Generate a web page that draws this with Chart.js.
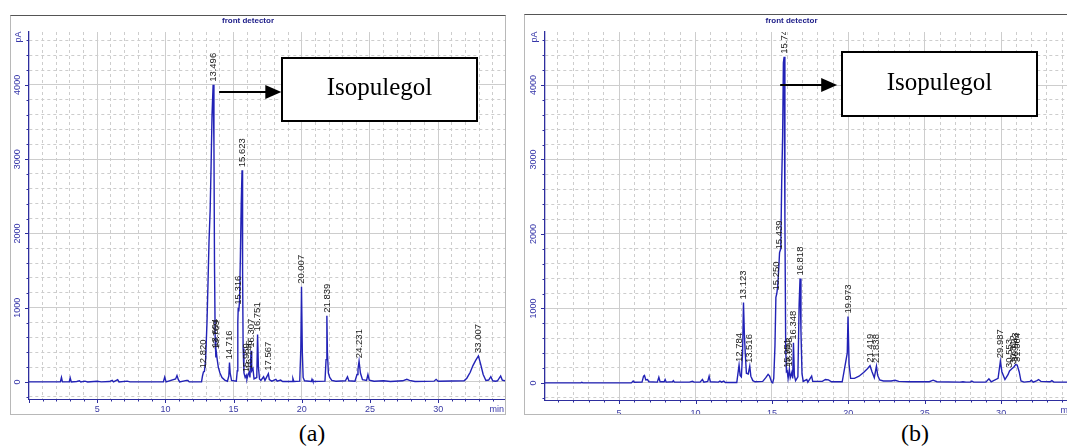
<!DOCTYPE html>
<html>
<head>
<meta charset="utf-8">
<script src="https://cdn.jsdelivr.net/npm/chart.js@4.4.0/dist/chart.umd.min.js"></script>
<style>
  body { margin: 0; width: 1067px; height: 448px; overflow: hidden; background: #fff; position: relative; }
  .frame { position: absolute; border: 1px solid #b8b8b8; border-top-color: #555; background: #fff; }
  .frame canvas { position: absolute; left: 0; top: 0; }
  .cap { position: absolute; font: 24px "Liberation Serif", "Times New Roman", serif; transform: translate(-50%, -50%); color: #000; }
</style>
</head>
<body>
<div class="frame" style="left:10px;top:15px;width:494px;height:398px"><canvas id="chartA" width="494" height="398"></canvas></div>
<div class="frame" style="left:524px;top:14px;width:560px;height:399px"><canvas id="chartB" width="560" height="399"></canvas></div>
<div class="cap" style="left:312px;top:433px">(a)</div>
<div class="cap" style="left:915px;top:433px">(b)</div>
<script>
// chromatogram (a) - retention time (min) / signal (pA)
const timeA = [0, 2.3, 2.38, 2.45, 2.95, 3.02, 3.1, 3.5, 3.7, 3.8, 4.1, 4.3, 5.0, 5.3, 5.9, 6.1, 6.2, 6.5, 6.6, 7.2, 7.4,
  9.85, 9.95, 10.05, 10.75, 10.85, 10.95, 11.05, 11.55, 11.65, 11.75, 12.65, 12.72, 12.79, 12.86, 12.95, 13.05, 13.12,
  13.2, 13.28, 13.35, 13.42, 13.5, 13.56, 13.6, 13.65, 13.7, 13.75, 13.8, 13.88, 14.0, 14.15, 14.35, 14.55, 14.65, 14.7,
  14.75, 14.85, 15.2, 15.27, 15.31, 15.34, 15.38, 15.44, 15.5, 15.56, 15.62, 15.66, 15.7, 15.76, 15.85, 15.93, 15.98,
  16.08, 16.14, 16.2, 16.28, 16.33, 16.42, 16.5, 16.7, 16.76, 16.82, 16.9, 17.0, 17.2, 17.3, 17.55, 17.62, 17.8, 18.1,
  18.2, 18.45, 18.6, 19.3, 19.35, 19.42, 19.85, 19.93, 19.98, 20.04, 20.1, 20.2, 20.7, 20.75, 20.82, 21.7, 21.78, 21.84,
  21.88, 21.95, 22.05, 22.2, 22.5, 23.2, 23.35, 23.45, 23.9, 24.05, 24.12, 24.2, 24.3, 24.45, 24.75, 24.85, 24.95, 25.3,
  26.0, 26.5, 27.4, 27.7, 27.9, 28.3, 29.7, 29.85, 30.0, 31.9, 32.1, 32.35, 32.55, 32.75, 32.95, 33.1, 33.3, 33.5, 33.7,
  33.86, 34.0, 34.2, 34.35, 34.58, 34.7, 34.9];
const signalA = [0, 0, 60, 0, 0, 55, 0, 5, 15, 0, 10, 0, 8, 0, 5, 20, 0, 30, 0, 10, 0,
  0, 65, 0, 40, 85, 30, 0, 20, 20, 0, 0, 80, 135, 140, 300, 800, 1300,
  1900, 2300, 2900, 3600, 4000, 3200, 1600, 600, 330, 380, 300, 200, 120, 60, 25, 10, 80, 260,
  120, 20, 10, 150, 800, 1000, 950, 1100, 1700, 2400, 2850, 1500, 450, 120, 60, 90, 40,
  110, 130, 60, 420, 150, 180, 40, 60, 640, 200, 40, 20, 70, 20, 110, 30, 10, 35,
  10, 25, 5, 5, 45, 5, 10, 450, 1280, 400, 60, 15, 5, 35, 5, 10, 300, 890,
  400, 120, 60, 20, 10, 15, 70, 15, 10, 100, 170, 280, 120, 30, 20, 100, 25, 10,
  15, 5, 15, 35, 20, 5, 10, 35, 10, 15, 50, 130, 220, 290, 350, 250, 100, 20, 25,
  70, 15, 10, 15, 80, 25, 15];
const peakTextA = ['12.820', '13.496', '13.694', '13.769', '14.716', '15.316', '15.623', '15.959', '16.146', '16.307',
  '16.751', '17.567', '20.007', '21.839', '24.231', '33.007'];
const peakTimeA = [12.79, 13.5, 13.66, 13.76, 14.7, 15.32, 15.62, 15.93, 16.14, 16.28, 16.76, 17.55, 19.98, 21.84, 24.2, 32.95];
const peakHeightA = [140, 4000, 420, 400, 260, 1000, 2850, 90, 130, 420, 640, 110, 1280, 890, 280, 350];

// chromatogram (b)
const timeB = [0.15, 2.5, 2.56, 2.62, 5.8, 5.92, 6.0, 6.5, 6.6, 6.66, 6.75, 6.86, 6.95, 7.5, 7.6, 7.68, 7.95, 8.01, 8.08,
  8.5, 8.55, 8.62, 9.6, 9.8, 9.9, 10.3, 10.45, 10.55, 10.8, 10.89, 10.97, 11.5, 11.6, 11.7, 11.85, 11.95, 12.7, 12.8,
  12.85, 12.92, 13.0, 13.08, 13.14, 13.2, 13.26, 13.33, 13.45, 13.55, 13.62, 13.75, 13.9, 14.4, 14.6, 14.75, 14.85,
  14.98, 15.05, 15.12, 15.2, 15.26, 15.32, 15.38, 15.45, 15.5, 15.58, 15.64, 15.7, 15.75, 15.8, 15.85, 15.9, 15.95,
  16.0, 16.06, 16.14, 16.2, 16.3, 16.36, 16.41, 16.47, 16.55, 16.7, 16.78, 16.84, 16.9, 16.97, 17.05, 17.28, 17.35,
  17.6, 17.67, 18.3, 18.5, 18.7, 18.9, 19.6, 19.93, 19.98, 20.05, 20.15, 20.4, 20.7, 21.0, 21.25, 21.42, 21.55, 21.7,
  21.84, 21.92, 22.05, 22.3, 22.8, 23.06, 23.3, 24.0, 25.3, 25.55, 25.8, 27.3, 27.5, 27.7, 28.0, 28.08, 28.2, 29.0,
  29.2, 29.35, 29.8, 29.95, 30.05, 30.25, 30.45, 30.55, 30.7, 30.82, 30.95, 31.05, 31.18, 31.3, 31.5, 31.9, 31.98,
  32.1, 32.35, 32.45, 32.6, 33.2, 33.32, 33.45, 34.9];
const signalB = [0, 0, 8, 0, 0, 25, 8, 10, 90, 100, 40, 45, 15, 10, 75, 15, 15, 45, 10,
  15, 30, 10, 10, 22, 10, 10, 45, 10, 20, 90, 15, 10, 25, 10, 25, 5, 5, 160,
  240, 100, 80, 400, 1080, 640, 380, 130, 120, 225, 90, 30, 15, 20, 70, 115, 90,
  10, 0, 60, 500, 1150, 1200, 1300, 1550, 1750, 1800, 2700, 3300, 4300, 4380, 2200, 500, 150,
  160, 60, 180, 70, 140, 60, 540, 100, 30, 80, 1050, 1400, 700, 120, 20, 45, 10,
  90, 20, 20, 45, 40, 15, 15, 400, 890, 250, 60, 60, 90, 140, 190, 230, 150, 70,
  225, 100, 40, 25, 25, 35, 20, 15, 15, 36, 15, 10, 15, 10, 10, 25, 10, 10,
  55, 15, 60, 290, 150, 45, 110, 160, 190, 210, 245, 240, 150, 25, 10, 20, 35,
  10, 30, 45, 20, 15, 30, 10, 10];
const peakTextB = ['12.784', '13.123', '13.516', '15.250', '15.439', '15.749', '15.951', '16.093', '16.348', '16.818',
  '19.973', '21.419', '21.838', '29.987', '30.553', '30.812', '30.943', '31.064'];
const peakTimeB = [12.85, 13.14, 13.55, 15.28, 15.5, 15.8, 16.0, 16.14, 16.41, 16.84, 19.98, 21.42, 21.84, 29.95, 30.55, 30.82, 30.95, 31.05];
const peakHeightB = [240, 1080, 225, 1200, 1750, 4380, 160, 180, 540, 1400, 890, 230, 225, 290, 160, 210, 245, 240];

const yTickLabels = [0, 1000, 2000, 3000, 4000];
const rangeY = [-230, 4712];

const traceColor = '#2222b6';
const axisColor = '#2e2e9e';
const gridColor = '#cdcdcd';

const chromPlugin = {
  id: 'chrom',
  afterDatasetsDraw(chart, args, o) {
    const ctx = chart.ctx, a = chart.chartArea, x = chart.scales.x, y = chart.scales.y;
    ctx.save();
    ctx.beginPath();
    ctx.rect(a.left, a.top, a.right - a.left, a.bottom - a.top);
    ctx.clip();
    ctx.fillStyle = '#1a1a1a';
    ctx.font = '9.5px Arial';
    ctx.textAlign = 'left';
    ctx.textBaseline = 'middle';
    o.texts.forEach((t, i) => {
      ctx.save();
      ctx.translate(x.getPixelForValue(o.times[i]), y.getPixelForValue(o.heights[i]) - 3);
      ctx.rotate(-Math.PI / 2);
      ctx.fillText(t, 0, 0);
      ctx.restore();
    });
    ctx.restore();
  },
  afterDraw(chart, args, o) {
    const ctx = chart.ctx, a = chart.chartArea, x = chart.scales.x, y = chart.scales.y;
    ctx.save();
    // tick marks
    ctx.strokeStyle = axisColor;
    ctx.lineWidth = 1;
    ctx.beginPath();
    x.ticks.forEach(t => {
      const px = Math.round(x.getPixelForValue(t.value)) + 0.5;
      const len = t.value % 5 === 0 ? 4 : 2.5;
      ctx.moveTo(px, a.bottom); ctx.lineTo(px, a.bottom + len);
    });
    y.ticks.forEach(t => {
      const py = Math.round(y.getPixelForValue(t.value)) + 0.5;
      const len = t.value % 1000 === 0 ? 4 : 2.5;
      ctx.moveTo(a.left, py); ctx.lineTo(a.left - len, py);
    });
    ctx.stroke();
    // y labels, rotated
    ctx.fillStyle = '#3434a8';
    ctx.font = '9px Arial';
    ctx.textAlign = 'center';
    ctx.textBaseline = 'middle';
    yTickLabels.forEach(v => {
      ctx.save();
      ctx.translate(a.left - 11.5, y.getPixelForValue(v));
      ctx.rotate(-Math.PI / 2);
      ctx.fillText(String(v), 0, 0);
      ctx.restore();
    });
    ctx.save();
    ctx.translate(a.left - 10, a.top + 5);
    ctx.rotate(-Math.PI / 2);
    ctx.fillText('pA', 0, 0);
    ctx.restore();
    // axis unit
    ctx.textAlign = 'right';
    ctx.fillText('min', a.right - 1, a.bottom + 11);
    // title
    ctx.font = 'bold 8px Arial';
    ctx.fillStyle = '#20208a';
    ctx.textAlign = 'center';
    ctx.fillText('front detector', (a.left + a.right) / 2 - 19, a.top - 11);
    // annotation box and arrow
    const n = o.note;
    const bx0 = Math.round(x.getPixelForValue(n.x0)), bx1 = Math.round(x.getPixelForValue(n.x1));
    const by0 = Math.round(y.getPixelForValue(n.yTop)), by1 = Math.round(y.getPixelForValue(n.yBot));
    ctx.fillStyle = '#fff';
    ctx.fillRect(bx0, by0, bx1 - bx0, by1 - by0);
    ctx.strokeStyle = '#000';
    ctx.lineWidth = 2;
    ctx.strokeRect(bx0, by0, bx1 - bx0, by1 - by0);
    ctx.fillStyle = '#000';
    ctx.font = '25px "Liberation Serif", "Times New Roman", serif';
    ctx.textBaseline = 'middle';
    ctx.fillText('Isopulegol', (bx0 + bx1) / 2, (by0 + by1) / 2 - 1);
    const ay = Math.round(y.getPixelForValue(n.arrowY));
    const ax0 = x.getPixelForValue(n.arrowFrom), ax1 = x.getPixelForValue(n.arrowTo);
    ctx.beginPath();
    ctx.moveTo(ax0, ay); ctx.lineTo(ax1 - 14, ay);
    ctx.stroke();
    ctx.beginPath();
    ctx.moveTo(ax1, ay); ctx.lineTo(ax1 - 16, ay - 7); ctx.lineTo(ax1 - 16, ay + 7); ctx.closePath();
    ctx.fill();
    ctx.restore();
  }
};

function buildChart(id, d) {
  return new Chart(document.getElementById(id), {
    type: 'line',
    data: {
      datasets: [{
        data: d.time.map((t, i) => ({ x: t, y: d.signal[i] })),
        borderColor: traceColor,
        borderWidth: 1.4,
        pointRadius: 0,
        tension: 0,
        fill: false
      }]
    },
    options: {
      responsive: false,
      animation: false,
      events: [],
      layout: { padding: { top: d.padTop, right: d.padRight, left: 0, bottom: 0 } },
      plugins: {
        legend: { display: false },
        tooltip: { enabled: false },
        chrom: { texts: d.texts, times: d.times, heights: d.heights, note: d.note }
      },
      scales: {
        x: {
          type: 'linear',
          min: d.xMin,
          max: 34.9,
          ticks: {
            stepSize: 1, includeBounds: false, autoSkip: false, maxRotation: 0,
            color: '#3a3aa4', font: { size: 9, family: 'Arial' }, padding: d.labelPad,
            callback: v => (v % 5 === 0 && v !== 0) ? String(v) : ''
          },
          grid: {
            drawTicks: false,
            color: c => (c.tick && c.tick.value === 0) ? 'rgba(0,0,0,0)' : gridColor
          },
          border: {
            color: axisColor, width: 1,
            dash: c => (c.tick && c.tick.value % 5 !== 0) ? [3, 3] : []
          },
          afterFit: s => { s.height = d.xAxisH; }
        },
        y: {
          type: 'linear',
          min: rangeY[0],
          max: rangeY[1],
          ticks: { stepSize: 200, display: false, includeBounds: false, autoSkip: false },
          grid: { drawTicks: false, color: gridColor },
          border: {
            color: axisColor, width: 1.3,
            dash: c => (c.tick && c.tick.value % 1000 !== 0) ? [3, 3] : []
          },
          afterFit: s => { s.width = d.yAxisW; }
        }
      }
    },
    plugins: [chromPlugin]
  });
}

buildChart('chartA', {
  time: timeA, signal: signalA, texts: peakTextA, times: peakTimeA, heights: peakHeightA,
  xMin: 0, padTop: 16, padRight: 0, xAxisH: 15, yAxisW: 18, labelPad: 5,
  note: { x0: 18.56, x1: 32.86, yTop: 4360, yBot: 3510, arrowFrom: 13.94, arrowTo: 18.5, arrowY: 3900 }
});
buildChart('chartB', {
  time: timeB, signal: signalB, texts: peakTextB, times: peakTimeB, heights: peakHeightB,
  xMin: 0.15, padTop: 17, padRight: 9, xAxisH: 14, yAxisW: 20, labelPad: 8,
  note: { x0: 19.6, x1: 32.36, yTop: 4440, yBot: 3580, arrowFrom: 15.54, arrowTo: 19.27, arrowY: 4000 }
});
</script>
</body>
</html>
